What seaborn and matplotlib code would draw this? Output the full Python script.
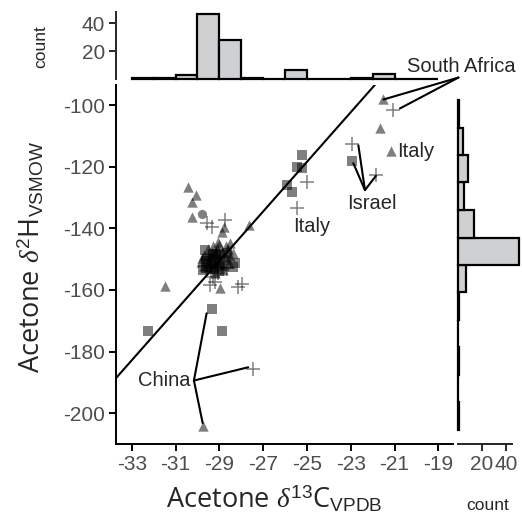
import matplotlib
matplotlib.use("Agg")
import matplotlib.pyplot as plt
import numpy as np
import pandas as pd
import seaborn as sns

# ---------------- data ----------------
d13C = [
    # South Africa / Italy / Israel
    -21.54, -21.08, -21.66, -21.16,
    -22.93, -22.93, -21.85,
    -25.21, -25.47, -25.21, -24.98, -25.92, -25.67, -25.47,
    # upper-left scatter
    -30.42, -30.08, -30.26, -30.26, -29.80, -29.55, -29.35, -28.74, -28.79, -27.63, -28.89,
    # around cluster
    -28.51, -28.36, -28.28, -28.36, -29.27, -29.05, -28.66, -29.42, -29.20, -28.97, -28.13, -27.98, -31.48,
    # China and low values
    -29.35, -28.86, -32.27, -27.45, -29.76,
    # dense cluster
    -29.50, -29.30, -29.10, -29.40, -29.20, -29.00, -29.60, -29.70, -29.35, -29.15,
    -28.95, -28.80, -29.25, -29.45, -29.55, -29.05, -28.90, -29.10, -29.30, -28.70,
    -28.60, -29.80, -29.65, -29.00, -28.85, -29.40, -29.20, -29.45, -29.10, -28.95,
    -29.35, -29.25, -29.60, -28.75, -29.15, -29.50, -28.55, -29.70, -29.00, -29.30,
    -29.05, -29.55, -28.85, -29.20, -28.65, -29.85, -28.50, -29.75, -28.70, -29.05,
]
d2H = [
    -98.1, -101.6, -107.6, -114.9,
    -112.8, -118.1, -122.7,
    -116.2, -120.0, -120.5, -124.9, -125.9, -128.3, -133.5,
    -126.7, -129.2, -131.4, -136.2, -135.4, -138.4, -139.5, -137.3, -139.5, -138.9, -141.1,
    -144.9, -148.1, -151.3, -152.4, -155.7, -154.6, -153.0, -158.4, -157.3, -159.3, -158.9, -158.1, -158.7,
    -166.2, -173.3, -173.2, -185.6, -204.3,
    -149.0, -150.2, -151.0, -151.5, -152.3, -149.5, -150.5, -148.6, -147.8, -148.5,
    -150.6, -151.8, -153.2, -152.8, -151.8, -152.6, -147.6, -146.5, -145.9, -149.4,
    -146.8, -149.7, -147.2, -153.8, -153.4, -154.0, -149.9, -150.9, -150.4, -148.8,
    -149.2, -151.3, -153.0, -150.4, -147.3, -146.6, -151.2, -152.1, -145.3, -148.4,
    -151.7, -149.9, -152.3, -154.6, -147.9, -151.0, -149.0, -153.6, -145.6, -144.6,
]
group = [
    "tri", "plus", "tri", "tri",
    "plus", "sq", "plus",
    "sq", "sq", "sq", "plus", "sq", "sq", "plus",
    "tri", "tri", "tri", "tri", "circ", "plus", "plus", "plus", "tri", "tri", "tri",
    "tri", "tri", "sq", "sq", "plus", "plus", "plus", "plus", "plus", "tri", "plus", "plus", "tri",
    "sq", "sq", "sq", "plus", "tri",
    "tri", "tri", "tri", "sq", "tri", "tri", "sq", "tri", "tri", "sq",
    "tri", "tri", "sq", "tri", "tri", "plus", "tri", "tri", "tri", "tri",
    "tri", "tri", "sq", "sq", "tri", "plus", "sq", "tri", "tri", "sq",
    "circ", "tri", "sq", "sq", "tri", "tri", "tri", "tri", "tri", "sq",
    "tri", "sq", "tri", "tri", "sq", "tri", "tri", "sq", "tri", "tri",
]

# marginal histograms
top_bin_edges = [-33, -32, -31, -30, -29, -28, -27, -26, -25, -24, -23, -22, -21, -20, -19]
top_counts = [1, 1, 3, 47, 28, 1, 0, 7, 0, 0, 1, 4, 0, 0]
right_bin_edges = [-205.4, -196.5, -187.6, -178.6, -169.7, -160.8, -151.9,
                   -143.0, -134.0, -125.1, -116.2, -107.3, -98.4]
right_counts = [1, 0, 1, 0, 1, 7, 51, 13, 5, 8, 4, 1]

# fitted line
fit_slope = 8.05
fit_intercept = 82.8

x_ticks = [-33, -31, -29, -27, -25, -23, -21, -19]
y_ticks = [-200, -180, -160, -140, -120, -100]
count_ticks = [20, 40]

df = pd.DataFrame({"d13C": d13C, "d2H": d2H, "group": group})

# ---------------- style ----------------
sns.set_style("ticks")
plt.rcParams["font.family"] = ["Liberation Sans", "DejaVu Sans"]
plt.rcParams["axes.unicode_minus"] = False
plt.rcParams["mathtext.fontset"] = "custom"
plt.rcParams["mathtext.rm"] = "Liberation Sans"
plt.rcParams["mathtext.sf"] = "Open Sans"
plt.rcParams["mathtext.it"] = "Liberation Serif:italic"

W, H = 522, 517
fig = plt.figure(figsize=(W / 100, H / 100), dpi=100)


def rect(l, t, r, b):
    return [l / W, 1 - b / H, (r - l) / W, (b - t) / H]


ax = fig.add_axes(rect(116, 85, 453, 444))
axt = fig.add_axes(rect(116, 12, 453, 79.5), sharex=ax)
axr = fig.add_axes(rect(458, 85, 512, 444), sharey=ax)

tick_col = "#4d4d4d"
spine_lw = 1.4
hist_fill = "#cfd0d2"

# ---------------- main scatter ----------------
marker_for = {"tri": "^", "sq": "s", "circ": "o"}
size_for = {"tri": 56, "sq": 42, "circ": 44}
for g, m in marker_for.items():
    sub = df[df["group"] == g]
    sns.scatterplot(data=sub, x="d13C", y="d2H", marker=m, s=size_for[g],
                    color="black", alpha=0.5, linewidth=0, legend=False, ax=ax, zorder=3)
sub = df[df["group"] == "plus"]
sns.scatterplot(data=sub, x="d13C", y="d2H", marker="+", s=90,
                color="black", alpha=0.5, linewidth=1.1, legend=False, ax=ax, zorder=3)

ax.axline((0, fit_intercept), slope=fit_slope, color="black", lw=1.5, zorder=4)

ax.set_xlim(-33.717, -18.33)
ax.set_ylim(-210.0, -93.5)
ax.set_xticks(x_ticks)
ax.set_yticks(y_ticks)
for s in ["top", "right"]:
    ax.spines[s].set_visible(False)
for s in ["left", "bottom"]:
    ax.spines[s].set_linewidth(spine_lw)
    ax.spines[s].set_color("black")
ax.tick_params(axis="both", direction="out", length=5, width=spine_lw, color="black",
               labelsize=15, labelcolor=tick_col, pad=3)

ax.set_xlabel(r"Acetone $\delta^{13}\mathsf{C}_{\mathrm{VPDB}}$", fontsize=19.5,
              fontfamily="Open Sans", va="top")
ax.xaxis.set_label_coords(0.469, -0.115)
ax.set_ylabel(r"Acetone $\delta^{2}\mathsf{H}_{\mathrm{VSMOW}}$", fontsize=19.5,
              fontfamily="Open Sans")
ax.yaxis.set_label_coords(-0.205, 0.522)

# ---------------- top histogram ----------------
top_centers = [(a + b) / 2 for a, b in zip(top_bin_edges[:-1], top_bin_edges[1:])]
sns.histplot(x=top_centers, weights=top_counts, bins=top_bin_edges, ax=axt,
             color=hist_fill, alpha=1, edgecolor="black", linewidth=1.6)
axt.set_ylim(0, 48.2)
axt.set_yticks(count_ticks)
for s in ["top", "right", "bottom"]:
    axt.spines[s].set_visible(False)
axt.spines["left"].set_linewidth(spine_lw)
axt.tick_params(axis="y", direction="out", length=5, width=spine_lw, labelsize=15,
                labelcolor=tick_col, pad=3)
axt.tick_params(axis="x", bottom=False, labelbottom=False)
axt.set_xlabel("")
axt.set_ylabel("count", fontsize=12.5)
axt.yaxis.set_label_coords(-0.2, 0.48)
axt.patch.set_alpha(0)
for p in axt.patches:
    p.set_clip_on(False)

# ---------------- right histogram ----------------
right_centers = [(a + b) / 2 for a, b in zip(right_bin_edges[:-1], right_bin_edges[1:])]
sns.histplot(y=right_centers, weights=right_counts, bins=right_bin_edges, ax=axr,
             color=hist_fill, alpha=1, edgecolor="black", linewidth=1.6)
axr.set_xlim(0, 45)
axr.set_xticks(count_ticks)
for s in ["top", "right", "left"]:
    axr.spines[s].set_visible(False)
axr.spines["bottom"].set_linewidth(spine_lw)
axr.tick_params(axis="x", direction="out", length=5, width=spine_lw, labelsize=15,
                labelcolor=tick_col, pad=3)
axr.tick_params(axis="y", left=False, labelleft=False)
axr.set_ylabel("")
axr.set_xlabel("count", fontsize=12.5, va="top")
axr.xaxis.set_label_coords(0.556, -0.150)
axr.patch.set_alpha(0)
for p in axr.patches:
    p.set_clip_on(False)

# ---------------- annotations ----------------
afs = 14.5
line_kw = dict(color="black", lw=1.5, clip_on=False, zorder=5)
# South Africa
ax.text(-20.43, -87.55, "South Africa", fontsize=afs, ha="left", va="center")
for ex, ey in [(-21.50, -98.2), (-20.75, -101.1)]:
    ax.plot([-18.08, ex], [-91.08, ey], **line_kw)
# Italy labels
ax.text(-20.90, -115.15, "Italy", fontsize=afs, ha="left", va="center")
ax.text(-25.63, -139.5, "Italy", fontsize=afs, ha="left", va="center")
# Israel
ax.text(-23.18, -131.8, "Israel", fontsize=afs, ha="left", va="center")
for ex, ey in [(-22.65, -113.1), (-22.88, -118.9), (-21.85, -123.0)]:
    ax.plot([-22.35, ex], [-127.6, ey], **line_kw)
# China
ax.text(-30.33, -189.4, "China", fontsize=afs, ha="right", va="center")
for ex, ey in [(-29.58, -167.6), (-27.68, -185.1), (-29.76, -203.2)]:
    ax.plot([-30.16, ex], [-189.4, ey], **line_kw)

fig.savefig("out.png", dpi=100)
